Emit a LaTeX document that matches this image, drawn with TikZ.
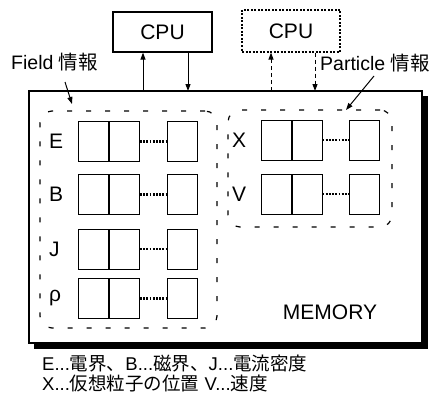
\documentclass[tikz,border=0pt]{standalone}
\usepackage{fontspec}
\setmainfont{Liberation Sans}
\newfontfamily\jpfont{Noto Sans CJK JP}
\usetikzlibrary{arrows.meta,positioning,calc}

\begin{document}
\begin{tikzpicture}[
  x=1pt, y=-1pt,
  font=\fontsize{21}{24}\selectfont,
  >={Triangle[length=7pt,width=5pt]},
  cpubox/.style={draw, line width=1.2pt, minimum width=99pt, minimum height=40pt, inner sep=0pt},
  cell/.style={draw, line width=1pt, minimum width=30pt, minimum height=40pt, inner sep=0pt},
  groupbox/.style={draw, line width=1.2pt, dash pattern=on 5pt off 14pt, rounded corners=12pt, inner sep=0pt},
  dots/.style={line width=2.6pt, dash pattern=on 1.8pt off 1.4pt},
  tag/.style={font=\fontsize{19.5}{22}\selectfont, inner sep=1pt, anchor=west},
  link/.style={->, line width=1pt}
]
\useasboundingbox (0,0) rectangle (438,404);

% --- memory block with shadow ---
\fill (34,96) rectangle (428,349);
\node[draw, fill=white, line width=1.6pt, minimum width=393pt, minimum height=252pt, inner sep=0pt] (mem) at (225.5,217) {};
\node (memlbl) at (330,312) {MEMORY};

% --- processors ---
\node[cpubox] (cpuA) at (162.5,32) {CPU};
\node[cpubox, dash pattern=on 2pt off 1.5pt, minimum width=98pt, minimum height=42pt] (cpuB) at (291,31) {CPU};

\coordinate (upA) at (143,91);
\coordinate (dnA) at (188,91);
\coordinate (upB) at (271,91);
\coordinate (dnB) at (315,91);
\draw[link] (upA) -- (upA |- cpuA.south);
\draw[link] (dnA |- cpuA.south) -- (dnA);
\draw[link, dash pattern=on 4pt off 3pt] (upB) -- (upB |- cpuB.south);
\draw[link, dash pattern=on 4pt off 3pt] (dnB |- cpuB.south) -- (dnB);

% --- data groups ---
\node[groupbox, minimum width=177pt, minimum height=217pt] (fieldgrp) at (128.5,219.5) {};
\node[groupbox, minimum width=164pt, minimum height=117pt] (partgrp) at (310,168.5) {};

\node[tag] (fieldlbl) at (10,62) {Field {\jpfont 情報}};
\node[tag] (partlbl) at (319,63) {Particle {\jpfont 情報}};
\coordinate (fieldtail) at (65,82);
\coordinate (fieldtip) at (72,104);
\coordinate (parttail) at (374,76);
\coordinate (parttip) at (346,110);
\draw[link] (fieldtail) -- (fieldtip);
\draw[link] (parttail) -- (parttip);

% field arrays
\foreach \lbl/\y/\n in {E/141.5/e, B/194.5/b, J/249/j, ρ/298.5/r} {
  \node[anchor=west, inner sep=0pt] (f\n) at (49,\y) {\lbl};
  \node[cell] (f\n1) at (93.5,\y) {};
  \node[cell, right=0pt of f\n1] (f\n2) {};
  \node[cell] (f\n3) at (182.5,\y) {};
  \draw[dots] (f\n2.east) -- (f\n3.west);
}

% particle arrays
\foreach \lbl/\y/\n in {X/140/x, V/194/v} {
  \node[anchor=west, inner sep=0pt] (p\n) at (232,\y) {\lbl};
  \node[cell] (p\n1) at (276,\y) {};
  \node[cell, right=0pt of p\n1] (p\n2) {};
  \node[cell] (p\n3) at (364,\y) {};
  \draw[dots] (p\n2.east) -- (p\n3.west);
}

% --- legend ---
\node[anchor=north west, align=left, font=\fontsize{18.5}{20}\selectfont, inner sep=0pt] (legend) at (42,355)
  {E...{\jpfont 電界、}B...{\jpfont 磁界、}J...{\jpfont 電流密度}\\X...{\jpfont 仮想粒子の位置} V...{\jpfont 速度}};

\end{tikzpicture}
\end{document}
